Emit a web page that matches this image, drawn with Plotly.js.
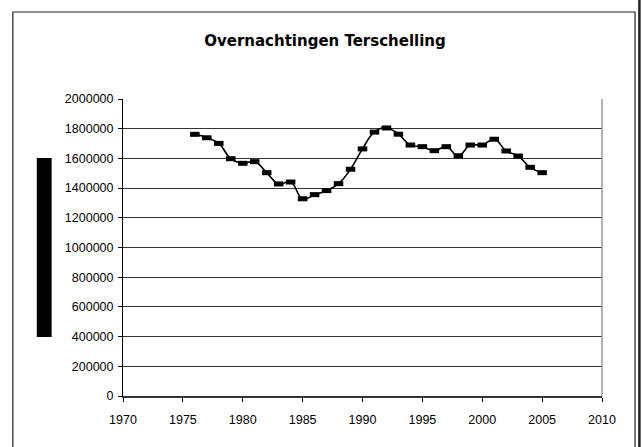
<!DOCTYPE html>
<html>
<head>
<meta charset="utf-8">
<script src="https://cdn.plot.ly/plotly-3.0.1.min.js"></script>
<style>
  html, body { margin: 0; padding: 0; background: white; }
  #plot { width: 642px; height: 447px; }
</style>
</head>
<body>
<div id="plot"></div>
<script>
const years = [1976, 1977, 1978, 1979, 1980, 1981, 1982, 1983, 1984, 1985,
               1986, 1987, 1988, 1989, 1990, 1991, 1992, 1993, 1994, 1995,
               1996, 1997, 1998, 1999, 2000, 2001, 2002, 2003, 2004, 2005];
const stays = [1762000, 1739000, 1701000, 1598000, 1567000, 1578000, 1504000, 1428000, 1441000, 1328000,
               1356000, 1383000, 1430000, 1527000, 1664000, 1777000, 1805000, 1763000, 1690000, 1679000,
               1652000, 1679000, 1618000, 1690000, 1690000, 1729000, 1650000, 1616000, 1540000, 1504000];
const titleText = 'Overnachtingen Terschelling';

const tickFont = { family: '"Liberation Sans", Arial, sans-serif', size: 12.5, color: '#000' };

Plotly.newPlot('plot', [
  { x: years, y: stays, mode: 'lines+markers',
    line: { color: '#000', width: 1.6, shape: 'spline', smoothing: 1.3 },
    marker: { symbol: 'line-ew', size: 6.8, color: '#000', line: { width: 5, color: '#000' } },
    showlegend: false, hoverinfo: 'skip' }
], {
  width: 642, height: 447,
  margin: { t: 99, l: 123, r: 40, b: 51 },
  title: { text: titleText, xref: 'container', x: 325 / 642, xanchor: 'center', y: 1 - 41 / 447, yanchor: 'middle',
           font: { family: '"DejaVu Sans", sans-serif', size: 15, color: '#000', weight: 'bold' } },
  xaxis: { range: [1970, 2010], dtick: 5, tick0: 1970, showgrid: false, zeroline: false,
           showline: true, linecolor: '#333', linewidth: 2, ticks: 'outside', ticklen: 4,
           tickcolor: '#000', tickfont: tickFont, tickformat: 'd', ticklabelstandoff: 7 },
  yaxis: { range: [0, 2000000], dtick: 200000, tick0: 0, showgrid: true, gridcolor: '#333', gridwidth: 1,
           zeroline: false, showline: true, linecolor: '#000', linewidth: 1, ticks: 'outside', ticklen: 4,
           tickcolor: '#000', tickfont: tickFont, tickformat: 'd', ticklabelstandoff: 2 },
  shapes: [
    // outer chart frame
    { type: 'rect', xref: 'paper', yref: 'paper', x0: -0.230, x1: 1.069, y0: -0.3, y1: 1.293,
      line: { color: '#222', width: 1.2 }, layer: 'below' },
    // right edge of plot area
    { type: 'line', xref: 'paper', yref: 'paper', x0: 1, x1: 1, y0: 0, y1: 1,
      line: { color: '#999', width: 1.5 } },
    // black bar left of the axis
    { type: 'rect', xref: 'paper', yref: 'paper', x0: -0.180, x1: -0.149, y0: 0.199, y1: 0.801,
      fillcolor: '#000', line: { width: 0 } },
    // page edge line
    { type: 'line', xref: 'paper', yref: 'paper', x0: 1.0781, x1: 1.0781, y0: -0.4, y1: 1.4,
      line: { color: '#222', width: 2.5 } }
  ],
  plot_bgcolor: 'white', paper_bgcolor: 'white'
}, { displayModeBar: false, staticPlot: true });
</script>
</body>
</html>
